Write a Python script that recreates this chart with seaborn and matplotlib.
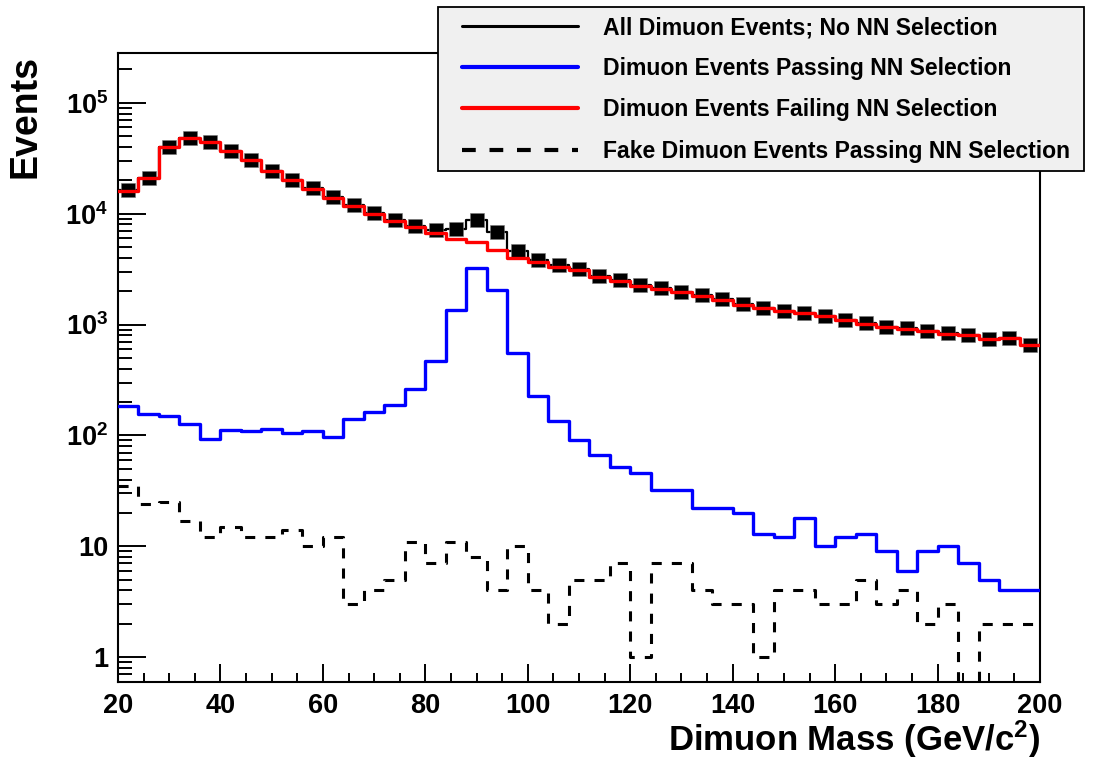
import numpy as np
import pandas as pd
import matplotlib
matplotlib.use("Agg")
import matplotlib.pyplot as plt
import seaborn as sns
from matplotlib.lines import Line2D
from matplotlib.patches import Rectangle
from matplotlib.ticker import FixedLocator, FixedFormatter, MultipleLocator, LogLocator, NullFormatter

# ---------------- data ----------------
bin_edges = [float(v) for v in np.arange(20, 204, 4)]   # 45 bins of 4 GeV/c^2
bin_centers = [e + 2 for e in bin_edges[:-1]]

all_events = [16300, 21200, 40200, 48100, 44600, 37100, 30500, 24500, 20300, 16900,
              14100, 11900, 10200, 8800, 7800, 7100, 7250, 8770, 6780, 4600,
              3850, 3460, 3190, 2740, 2540, 2290, 2140, 1980, 1840, 1710,
              1530, 1425, 1330, 1280, 1195, 1110, 1025, 952, 925, 878,
              832, 812, 742, 756, 655]
failing_nn = [16100, 21000, 40000, 48000, 44500, 37000, 30400, 24400, 20200, 16800,
              14000, 11800, 10000, 8650, 7520, 6650, 5870, 5520, 4710, 3990,
              3640, 3330, 3110, 2670, 2490, 2240, 2090, 1950, 1820, 1680,
              1510, 1413, 1320, 1265, 1188, 1100, 1014, 946, 920, 871,
              825, 808, 738, 753, 653]
passing_nn = [186, 157, 151, 127, 92, 111, 109, 114, 106, 109,
              97, 141, 161, 188, 263, 474, 1340, 3240, 2055, 551,
              225, 136, 90, 67, 52, 46, 32, 32, 22, 22,
              20, 13, 12, 18, 10, 12, 13, 9, 6, 9,
              10, 7, 5, 4, 4]
fake_passing = [35, 24, 25, 17, 12, 15, 12, 12, 14, 10,
                12, 3, 4, 5, 11, 7, 11, 8, 4, 10,
                4, 2, 5, 5, 7, 1, 7, 7, 4, 3,
                3, 1, 4, 4, 3, 3, 5, 3, 4, 2,
                3, 0, 2, 2, 2]

legend_labels = ["All Dimuon Events; No NN Selection",
                 "Dimuon Events Passing NN Selection",
                 "Dimuon Events Failing NN Selection",
                 "Fake Dimuon Events Passing NN Selection"]
x_ticks = [20, 40, 60, 80, 100, 120, 140, 160, 180, 200]
y_ticks = [1, 10, 100, 1000, 10000, 100000]
y_tick_labels = ["1", "10", "$10^{2}$", "$10^{3}$", "$10^{4}$", "$10^{5}$"]
x_title = "Dimuon Mass (GeV/c$^{2}$)"
y_title = "Events"

df = pd.DataFrame({"mass": bin_centers, "all": all_events, "fail": failing_nn,
                   "pass": passing_nn, "fake": fake_passing})

# ---------------- style ----------------
sns.set_theme(style="white")
plt.rcParams["font.family"] = ["Liberation Sans", "DejaVu Sans"]
plt.rcParams["font.weight"] = "bold"
plt.rcParams["text.color"] = "black"
plt.rcParams["axes.labelcolor"] = "black"
plt.rcParams["xtick.color"] = "black"
plt.rcParams["ytick.color"] = "black"
plt.rcParams["mathtext.fontset"] = "custom"
plt.rcParams["mathtext.rm"] = "Liberation Sans:bold"
plt.rcParams["mathtext.it"] = "Liberation Sans:bold"
plt.rcParams["mathtext.bf"] = "Liberation Sans:bold"
plt.rcParams["mathtext.default"] = "rm"

W, H = 1094, 761
fig = plt.figure(figsize=(W / 100, H / 100), dpi=100)
ax = fig.add_axes([118 / W, 1 - 681.7 / H, (1040 - 118) / W, (681.7 - 53.3) / H])
ax.set_yscale("log")

dash = (0, (3.3, 3.3))

sns.histplot(data=df, x="mass", weights="all", bins=bin_edges, element="step", fill=False,
             color="black", linewidth=1.6, ax=ax, zorder=2)
sns.scatterplot(data=df, x="mass", y="all", marker="s", s=100, color="black",
                edgecolor="#777777", linewidth=0.4, ax=ax, zorder=3)
sns.histplot(data=df, x="mass", weights="pass", bins=bin_edges, element="step", fill=False,
             color="#0000ff", linewidth=2.4, ax=ax, zorder=4)
sns.histplot(data=df, x="mass", weights="fail", bins=bin_edges, element="step", fill=False,
             color="#ff0000", linewidth=2.4, ax=ax, zorder=5)
sns.histplot(data=df, x="mass", weights="fake", bins=bin_edges, element="step", fill=False,
             color="black", linewidth=2.2, linestyle=dash, ax=ax, zorder=4)

ax.set_xlim(20, 200)
ax.set_ylim(0.6, 2.8e5)

# ticks
ax.xaxis.set_major_locator(FixedLocator(x_ticks))
ax.xaxis.set_minor_locator(MultipleLocator(5))
ax.yaxis.set_major_locator(FixedLocator(y_ticks))
ax.yaxis.set_major_formatter(FixedFormatter(y_tick_labels))
ax.yaxis.set_minor_locator(LogLocator(base=10, subs=np.arange(2, 10), numticks=20))
ax.yaxis.set_minor_formatter(NullFormatter())
ax.tick_params(axis="both", which="both", direction="in", colors="black", width=1.4,
               bottom=True, left=True, top=False, right=False)
ax.tick_params(axis="y", which="major", length=20, pad=7, labelsize=19.5)
ax.tick_params(axis="y", which="minor", length=10)
ax.tick_params(axis="x", which="major", length=13, pad=8, labelsize=19.5)
ax.tick_params(axis="x", which="minor", length=6.5)
for lab in ax.get_xticklabels() + ax.get_yticklabels():
    lab.set_fontweight("bold")
    lab.set_color("black")

for sp in ax.spines.values():
    sp.set_visible(True)
    sp.set_color("black")
    sp.set_linewidth(1.5)

ax.set_xlabel(x_title, fontsize=25, fontweight="bold", color="black")
ax.xaxis.set_label_coords(1.0, (681.7 - 718) / 628.4)
ax.xaxis.label.set_horizontalalignment("right")
ax.set_ylabel(y_title, fontsize=27, fontweight="bold", color="black")
ax.yaxis.set_label_coords((44 - 118) / 922, 0.997)
ax.yaxis.label.set_horizontalalignment("right")

# legend box
fig.patches.append(Rectangle((438 / W, 1 - 171 / H), (1084 - 438) / W, (171 - 7) / H,
                             transform=fig.transFigure, facecolor="#f0f0f0",
                             edgecolor="black", linewidth=1.3, zorder=10))
handles = [Line2D([], [], color="black", lw=2.2),
           Line2D([], [], color="#0000ff", lw=3),
           Line2D([], [], color="#ff0000", lw=3),
           Line2D([], [], color="black", lw=3, linestyle=dash)]
leg = fig.legend(handles, legend_labels, loc="upper left",
                 bbox_to_anchor=(462 / W, 1 - 16 / H),
                 prop={"family": "Liberation Sans", "weight": "bold", "size": 16.6},
                 frameon=False, handlelength=5.04, handletextpad=1.09,
                 borderpad=0, labelspacing=0.79, borderaxespad=0)
leg.set_zorder(11)

fig.savefig("out.png", dpi=100)
